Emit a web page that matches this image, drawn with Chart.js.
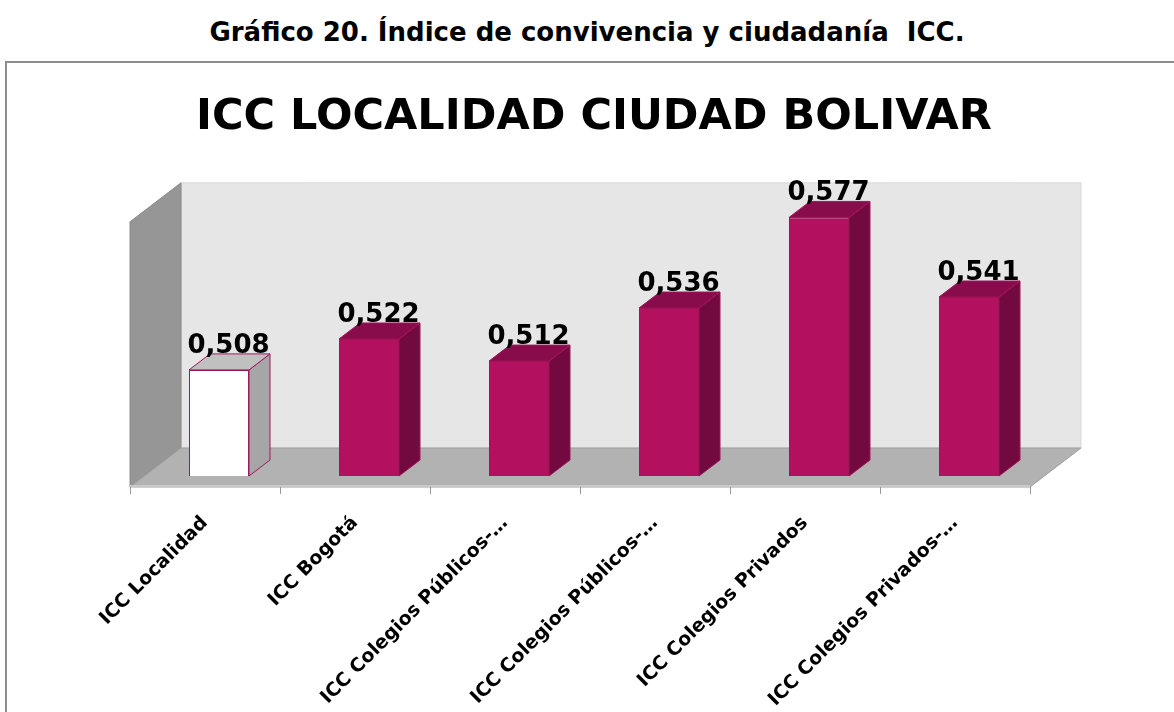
<!DOCTYPE html>
<html>
<head>
<meta charset="utf-8">
<script src="https://cdn.jsdelivr.net/npm/chart.js@4.4.1/dist/chart.umd.min.js"></script>
<style>
  html, body { margin: 0; padding: 0; background: #fff; }
  body { width: 1174px; height: 712px; position: relative; overflow: hidden; }
  #caption { position: absolute; left: 0; top: 17px; width: 1174px; text-align: center;
    font: bold 26px "DejaVu Sans", sans-serif; color: #000; }
  #frame { position: absolute; left: 5px; top: 61px; width: 1300px; height: 800px;
    border: 2px solid #8c8c8c; box-sizing: border-box; }
  #wrap { position: absolute; left: 0; top: 0; width: 1174px; height: 712px; }
</style>
</head>
<body>
<div id="caption">Gráfico 20. Índice de convivencia y ciudadanía&nbsp; ICC.</div>
<div id="frame"></div>
<div id="wrap"><canvas id="c" width="1174" height="712"></canvas></div>
<script>
const categories = ['ICC Localidad', 'ICC Bogotá', 'ICC Colegios Públicos-…', 'ICC Colegios Públicos-…', 'ICC Colegios Privados', 'ICC Colegios Privados-…'];
const values = [0.508, 0.522, 0.512, 0.536, 0.577, 0.541];
const valueLabels = ['0,508', '0,522', '0,512', '0,536', '0,577', '0,541'];
const yMin = 0.46, yMax = 0.58;

const frontColors = ['#ffffff', '#b41060', '#b41060', '#b41060', '#b41060', '#b41060'];
const sideColors = ['#a6a6a6', '#730a3f', '#730a3f', '#730a3f', '#730a3f', '#730a3f'];
const topColors = ['#c0c0c0', '#880c4b', '#880c4b', '#880c4b', '#880c4b', '#880c4b'];
const edgeColors = ['#9a1a5c', '#a0145a', '#a0145a', '#a0145a', '#a0145a', '#a0145a'];

// 3d offsets relative to the plane of the bar fronts
const barDepth = { dx: 21, dy: -16 };
const backOff = { dx: 37, dy: -28 };
const frontOff = { dx: -14, dy: 11 };

function poly(ctx, pts, fill, stroke) {
  ctx.beginPath();
  ctx.moveTo(pts[0][0], pts[0][1]);
  for (let i = 1; i < pts.length; i++) ctx.lineTo(pts[i][0], pts[i][1]);
  ctx.closePath();
  ctx.fillStyle = fill;
  ctx.fill();
  if (stroke) { ctx.strokeStyle = stroke; ctx.lineWidth = 1; ctx.stroke(); }
}

const box3d = {
  id: 'box3d',
  beforeDatasetsDraw(chart) {
    const ctx = chart.ctx, a = chart.chartArea;
    ctx.save();
    // back wall
    poly(ctx, [[a.left + backOff.dx, a.top + backOff.dy], [a.right + backOff.dx, a.top + backOff.dy],
      [a.right + backOff.dx, a.bottom + backOff.dy], [a.left + backOff.dx, a.bottom + backOff.dy]], '#e6e6e6', '#d9d9d9');
    // left wall
    poly(ctx, [[a.left + frontOff.dx, a.top + frontOff.dy], [a.left + backOff.dx, a.top + backOff.dy],
      [a.left + backOff.dx, a.bottom + backOff.dy], [a.left + frontOff.dx, a.bottom + frontOff.dy]], '#969696', '#8a8a8a');
    // floor
    poly(ctx, [[a.left + frontOff.dx, a.bottom + frontOff.dy], [a.left + backOff.dx, a.bottom + backOff.dy],
      [a.right + backOff.dx, a.bottom + backOff.dy], [a.right + frontOff.dx, a.bottom + frontOff.dy]], '#b2b2b2', '#9e9e9e');
    // front edge of floor
    ctx.strokeStyle = '#c8c8c8';
    ctx.lineWidth = 2;
    ctx.beginPath();
    ctx.moveTo(a.left + frontOff.dx, a.bottom + frontOff.dy - 1);
    ctx.lineTo(a.right + frontOff.dx, a.bottom + frontOff.dy - 1);
    ctx.stroke();
    // ticks
    const n = categories.length, step = (a.right - a.left) / n;
    ctx.strokeStyle = '#999';
    ctx.lineWidth = 1;
    for (let i = 0; i <= n; i++) {
      const x = Math.round(a.left + frontOff.dx + i * step) + 0.5;
      ctx.beginPath();
      ctx.moveTo(x, a.bottom + frontOff.dy);
      ctx.lineTo(x, a.bottom + frontOff.dy + 7);
      ctx.stroke();
    }
    ctx.restore();
  },
  afterDatasetsDraw(chart) {
    const ctx = chart.ctx, a = chart.chartArea;
    const meta = chart.getDatasetMeta(0);
    ctx.save();
    meta.data.forEach((bar, i) => {
      const p = bar.getProps(['x', 'y', 'base', 'width'], true);
      const l = p.x - p.width / 2, r = p.x + p.width / 2;
      // side
      poly(ctx, [[r, p.y], [r + barDepth.dx, p.y + barDepth.dy], [r + barDepth.dx, p.base + barDepth.dy], [r, p.base]],
        sideColors[i], edgeColors[i]);
      // top
      poly(ctx, [[l, p.y], [l + barDepth.dx, p.y + barDepth.dy], [r + barDepth.dx, p.y + barDepth.dy], [r, p.y]],
        topColors[i], edgeColors[i]);
      // value label
      ctx.fillStyle = '#000';
      ctx.font = 'bold 26px "DejaVu Sans", sans-serif';
      ctx.textAlign = 'center';
      ctx.textBaseline = 'alphabetic';
      ctx.fillText(valueLabels[i], p.x + barDepth.dx / 2 - 1, p.y + barDepth.dy - 1);
    });
    // category labels, rotated
    const xs = chart.scales.x;
    ctx.font = 'bold 19px "DejaVu Sans", sans-serif';
    ctx.textAlign = 'right';
    ctx.textBaseline = 'middle';
    categories.forEach((c, i) => {
      const x = xs.getPixelForValue(i) + frontOff.dx;
      const y = a.bottom + frontOff.dy + 33;
      ctx.save();
      ctx.translate(x, y);
      ctx.rotate(-Math.PI / 4);
      ctx.fillText(c, 0, 0);
      ctx.restore();
    });
    ctx.restore();
  }
};

new Chart(document.getElementById('c'), {
  type: 'bar',
  data: {
    labels: categories,
    datasets: [{
      data: values,
      base: yMin,
      backgroundColor: frontColors,
      borderColor: edgeColors,
      borderWidth: 1,
      barPercentage: 0.4,
      categoryPercentage: 1.0
    }]
  },
  options: {
    responsive: false,
    animation: false,
    layout: { padding: { left: 144, right: 130, top: 0, bottom: 236 } },
    scales: {
      x: { display: false },
      y: { display: false, min: yMin, max: yMax }
    },
    plugins: {
      legend: { display: false },
      tooltip: { enabled: false },
      title: {
        display: true,
        text: 'ICC LOCALIDAD CIUDAD BOLIVAR',
        color: '#000',
        font: { family: '"DejaVu Sans", sans-serif', size: 43, weight: 'bold', lineHeight: 1.2 },
        padding: { top: 92, bottom: 67.2 }
      }
    }
  },
  plugins: [box3d]
});
</script>
</body>
</html>
